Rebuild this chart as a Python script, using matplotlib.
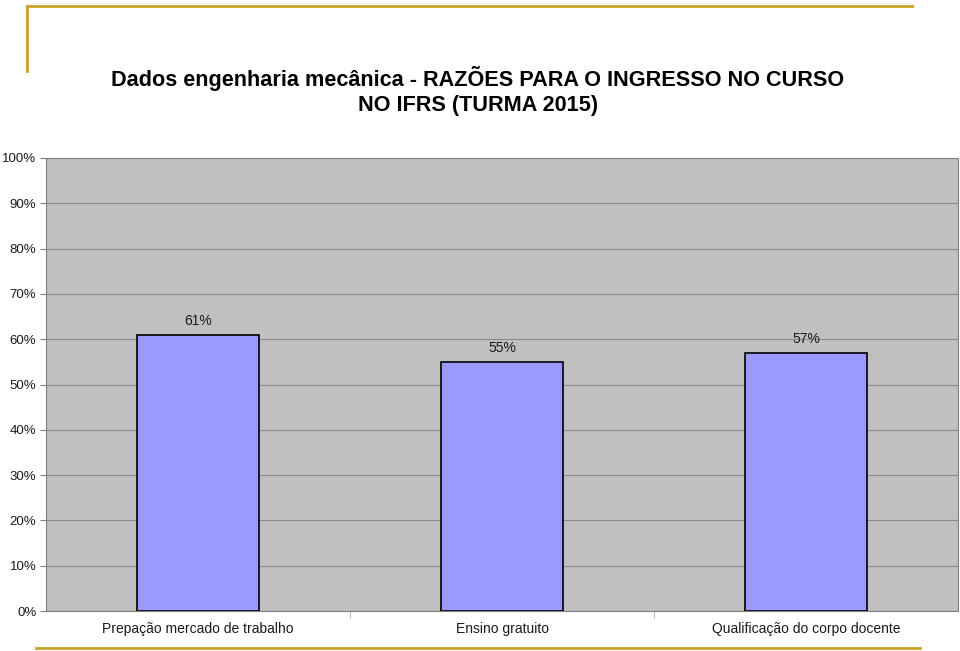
import matplotlib.pyplot as plt
import numpy as np
from matplotlib.lines import Line2D

categories = ['Prepação mercado de trabalho', 'Ensino gratuito', 'Qualificação do corpo docente']
values = [61, 55, 57]
labels = ['61%', '55%', '57%']
yticks = list(range(0, 101, 10))

plt.rcParams['font.family'] = ['Liberation Sans', 'DejaVu Sans']

fig = plt.figure(figsize=(9.6, 6.51), dpi=100)
W, H = 960, 651
ax = fig.add_axes([46 / W, 1 - 611 / H, (958 - 46) / W, (611 - 158) / H])
ax.set_facecolor('#C0C0C0')

x = np.arange(len(categories))
ax.bar(x, values, width=0.4, color='#9999FF', edgecolor='black', linewidth=1.2, zorder=3)
for xi, v, lab in zip(x, values, labels):
    ax.text(xi, v + 1.5, lab, ha='center', va='bottom', fontsize=10, color='#1a1a1a')

ax.set_xlim(-0.5, len(categories) - 0.5)
ax.set_ylim(0, 100)
ax.set_yticks(yticks)
ax.set_yticklabels([f'{t}%' for t in yticks], fontsize=9.5, color='#1a1a1a')
ax.yaxis.grid(True, color='#8a8a8a', linewidth=0.8, zorder=0)
ax.tick_params(axis='y', length=4, color='#808080', pad=3)

ax.set_xticks(x)
ax.set_xticklabels(categories, fontsize=10, color='#1a1a1a')
ax.set_xticks([0.5, 1.5], minor=True)
ax.tick_params(axis='x', which='major', length=0, pad=8)
ax.tick_params(axis='x', which='minor', length=5, color='#aaaaaa', direction='out')

for s in ['top', 'right', 'left', 'bottom']:
    ax.spines[s].set_color('#808080')
    ax.spines[s].set_linewidth(0.8)

fig.text(478 / W, 1 - 78 / H, 'Dados engenharia mecânica - RAZÕES PARA O INGRESSO NO CURSO',
         ha='center', va='center', fontsize=15.6, fontweight='bold')
fig.text(478 / W, 1 - 105 / H, 'NO IFRS (TURMA 2015)',
         ha='center', va='center', fontsize=15.6, fontweight='bold')

gold = '#C9A227'
fig.add_artist(Line2D([27 / W, 912 / W], [1 - 6 / H, 1 - 6 / H], color=gold, linewidth=2))
fig.add_artist(Line2D([27 / W, 27 / W], [1 - 6 / H, 1 - 71 / H], color=gold, linewidth=2))
fig.add_artist(Line2D([36 / W, 920 / W], [1 - 648 / H, 1 - 648 / H], color=gold, linewidth=2))

fig.savefig('out.png', dpi=100)
